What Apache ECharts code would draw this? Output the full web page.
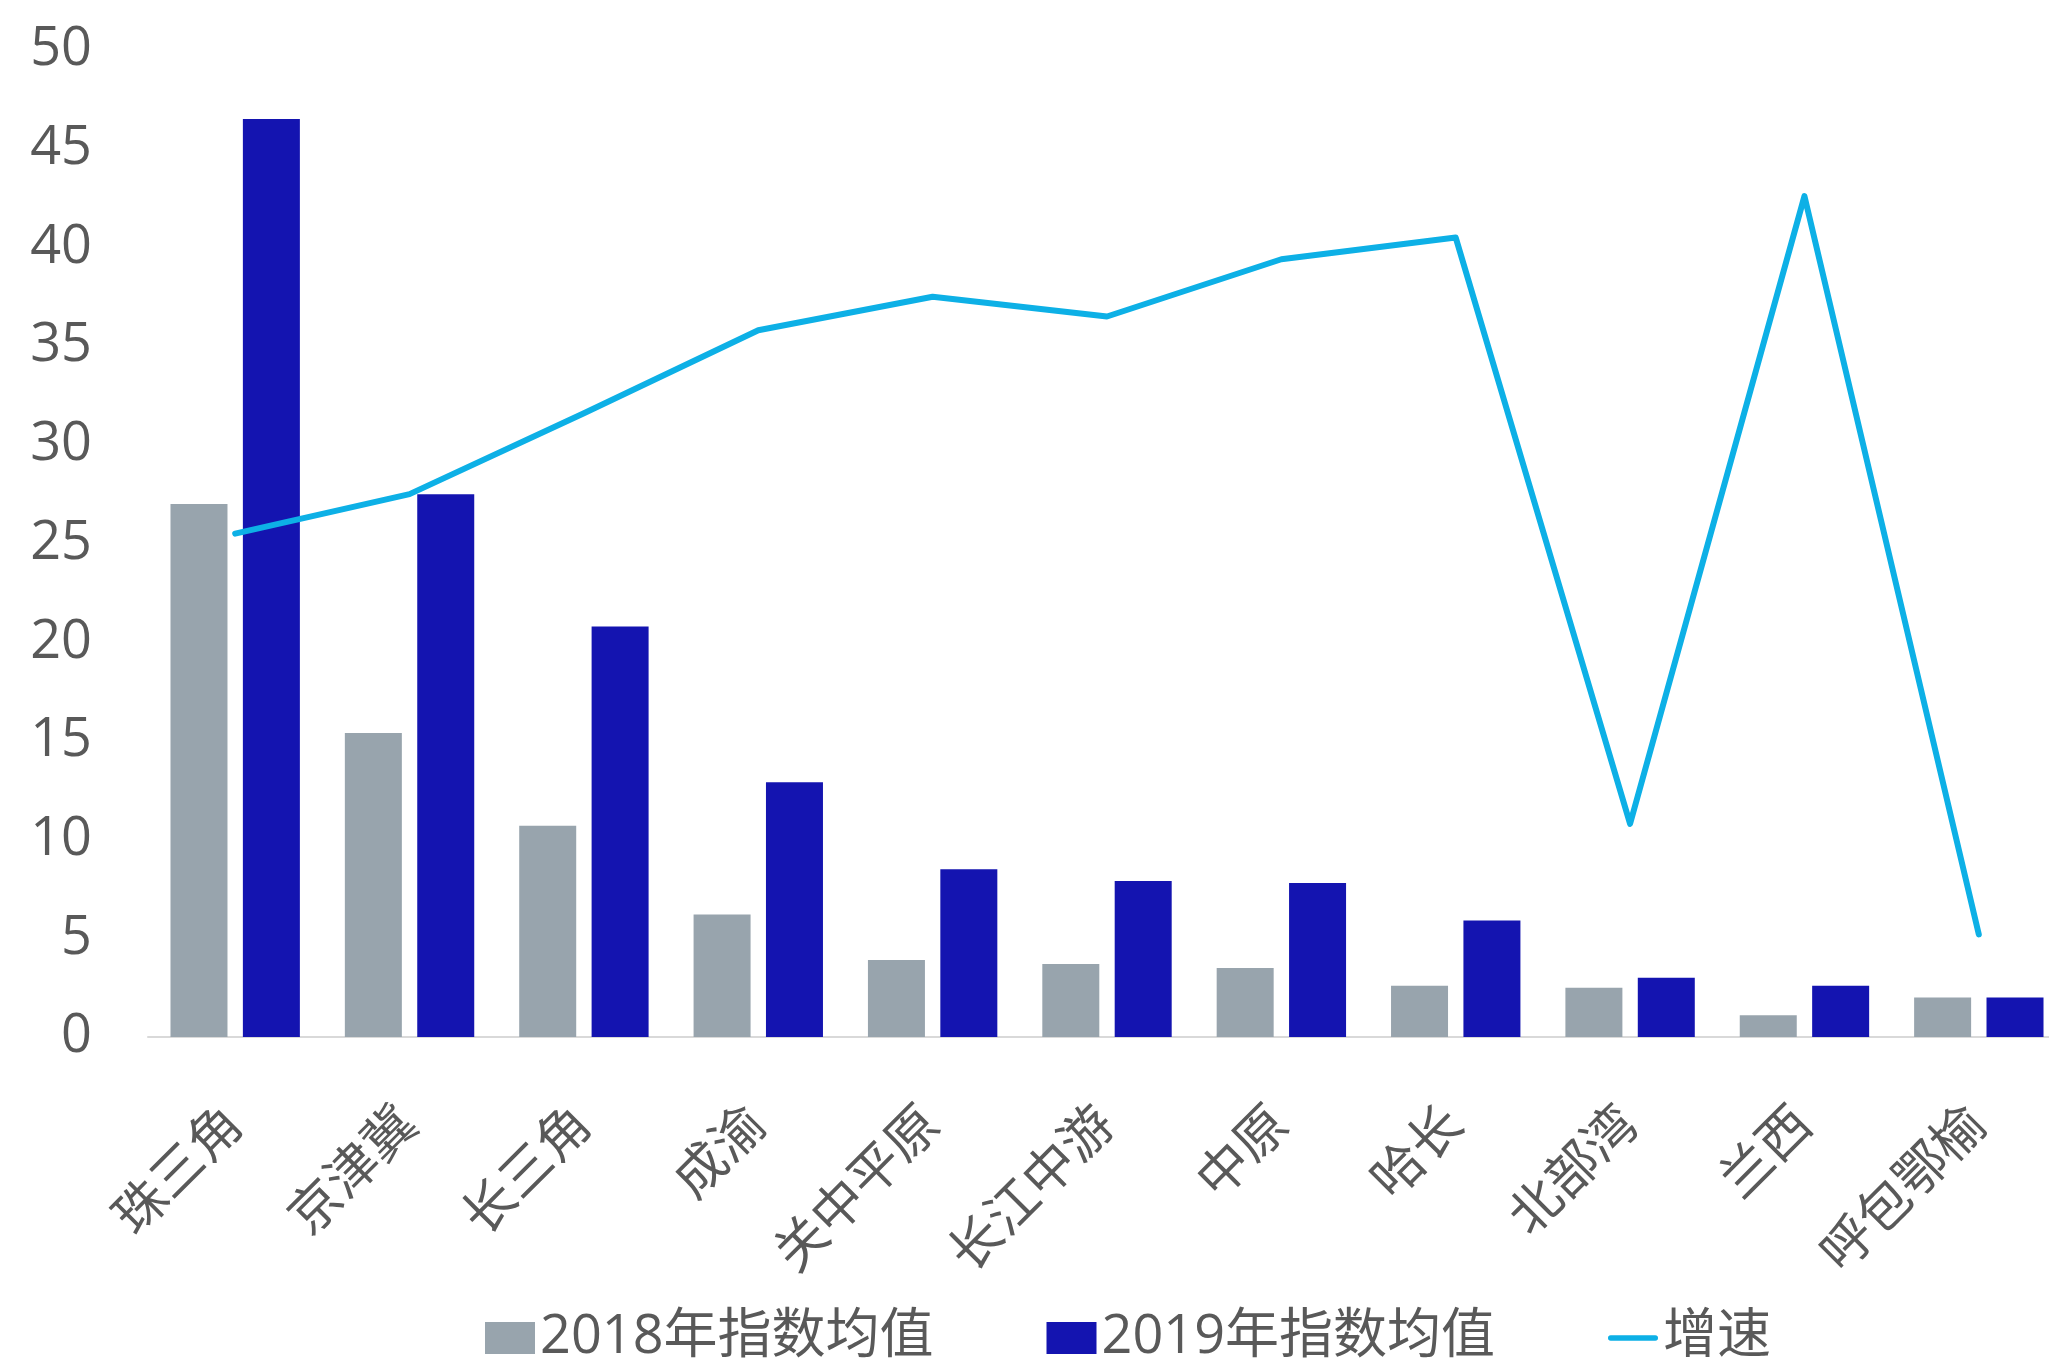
<!DOCTYPE html>
<html>
<head>
<meta charset="utf-8">
<script src="https://cdn.jsdelivr.net/npm/echarts@6/dist/echarts.min.js"></script>
<style>
  html, body { margin: 0; padding: 0; background: #fff; }
  #main { width: 2049px; height: 1358px; }
</style>
</head>
<body>
<div id="main"></div>
<script>
// 城市群
const categories = ['珠三角', '京津冀', '长三角', '成渝', '关中平原', '长江中游', '中原', '哈长', '北部湾', '兰西', '呼包鄂榆'];
const legendNames = ['2018年指数均值', '2019年指数均值', '增速'];
const values2018 = [27.0, 15.4, 10.7, 6.2, 3.9, 3.7, 3.5, 2.6, 2.5, 1.1, 2.0];
const values2019 = [46.5, 27.5, 20.8, 12.9, 8.5, 7.9, 7.8, 5.9, 3.0, 2.6, 2.0];
const growth = [25.5, 27.5, 31.6, 35.8, 37.5, 36.5, 39.4, 40.5, 10.8, 42.6, 5.2];

const textColor = '#595959';
const fontFamily = '"Open Sans", "Noto Sans CJK SC", sans-serif';

const chart = echarts.init(document.getElementById('main'));

const option = {
  backgroundColor: '#ffffff',
  animation: false,
  textStyle: { fontFamily: fontFamily },
  grid: {
    left: 148,
    width: 1918,
    top: 50,
    bottom: 321,
    containLabel: false,
    outerBoundsMode: 'none'
  },
  legend: {
    data: [
      { name: legendNames[0], icon: 'rect' },
      { name: legendNames[1], icon: 'rect' },
      // thin bar centred in the icon box, like the line sample
      { name: legendNames[2], icon: 'path://M0,0 M56,32 M3,13 L53,13 A3,3 0 0 1 53,19 L3,19 A3,3 0 0 1 3,13 Z' }
    ],
    left: 480,
    top: 1306,
    itemWidth: 50,
    itemHeight: 32,
    itemGap: 113,
    textStyle: {
      color: textColor,
      fontSize: 54,
      fontFamily: fontFamily
    }
  },
  xAxis: {
    type: 'category',
    data: categories,
    axisLine: { lineStyle: { color: '#d9d9d9', width: 2 } },
    axisTick: { show: false },
    axisLabel: {
      rotate: 45,
      interval: 0,
      margin: 80,
      color: textColor,
      fontSize: 52,
      fontFamily: fontFamily
    }
  },
  yAxis: {
    type: 'value',
    min: 0,
    max: 50,
    interval: 5,
    axisLine: { show: false },
    axisTick: { show: false },
    splitLine: { show: false },
    axisLabel: {
      margin: 56,
      padding: [8, 0, 0, 0],
      color: textColor,
      fontSize: 54,
      fontFamily: fontFamily
    }
  },
  series: [
    {
      name: legendNames[0],
      type: 'bar',
      data: values2018,
      barWidth: 57,
      barGap: '27%',
      itemStyle: { color: '#98a4ad' }
    },
    {
      name: legendNames[1],
      type: 'bar',
      data: values2019,
      barWidth: 57,
      barGap: '27%',
      itemStyle: { color: '#1414b0' }
    },
    {
      name: legendNames[2],
      type: 'line',
      data: growth,
      symbol: 'none',
      z: 5,
      lineStyle: { color: '#0db0e6', width: 6, cap: 'round', join: 'round' },
      itemStyle: { color: '#0db0e6' }
    }
  ]
};

chart.setOption(option);
</script>
</body>
</html>
